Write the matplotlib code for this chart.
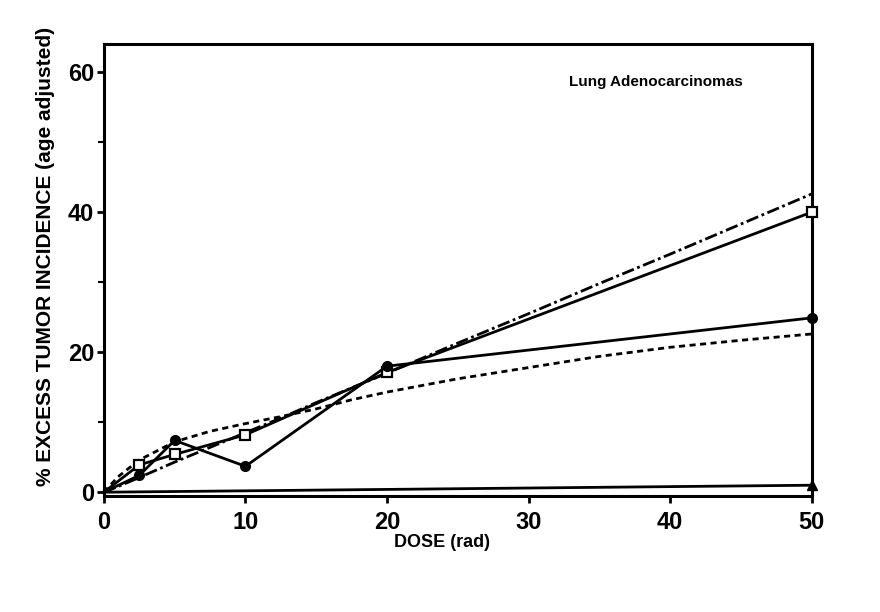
import matplotlib
matplotlib.use("Agg")
import matplotlib.pyplot as plt
import matplotlib.ticker as ticker

plt.rcParams['font.family'] = ['Liberation Sans', 'DejaVu Sans']

# observed points
dose = [0, 2.5, 5, 10, 20, 50]
squares = [0, 3.9, 5.4, 8.2, 17.1, 40.0]
circles = [0, 2.4, 7.4, 3.7, 18.0, 24.9]
tri_dose = [0, 50]
triangles = [0, 1.0]

# fitted curves
fit_dose = [0, 1, 2.5, 5, 7.5, 10, 12.5, 15, 17.5, 20, 25, 30, 35, 40, 45, 50]
dashdot_fit = [0, 0.8, 2.1, 4.3, 6.4, 8.5, 10.6, 12.8, 14.9, 17.0, 21.3, 25.5,
               29.8, 34.0, 38.3, 42.6]
dotted_fit = [0, 2.2, 4.6, 7.2, 8.7, 9.8, 10.8, 11.9, 13.2, 14.3, 16.2, 17.8,
              19.4, 20.7, 21.7, 22.6]

title = "Lung Adenocarcinomas"

fig = plt.figure(figsize=(8.8, 6.12), dpi=100)
ax = fig.add_axes([0.118, 0.190, 0.8045, 0.738])

ax.plot(fit_dose, dashdot_fit, color='black', lw=2, dashes=(4.5, 1.3, 1, 1.3))
ax.plot(fit_dose, dotted_fit, color='black', lw=2, dashes=(2.2, 1.6))
ax.plot(dose, squares, color='black', lw=2, marker='s', markersize=6.5,
        markerfacecolor='white', markeredgewidth=1.6, markevery=list(range(1, 6)),
        clip_on=False, zorder=4)
ax.plot(dose, circles, color='black', lw=2, marker='o', markersize=7,
        markevery=list(range(1, 6)), clip_on=False, zorder=4)
ax.plot(tri_dose, triangles, color='black', lw=2, marker='^', markersize=7,
        markevery=[1], clip_on=False, zorder=4)

ax.set_xlim(0, 50)
ax.set_ylim(-0.5, 64)
ax.set_xticks([0, 10, 20, 30, 40, 50])
ax.set_yticks([0, 20, 40, 60])
ax.yaxis.set_minor_locator(ticker.FixedLocator([10, 30, 50]))

for s in ax.spines.values():
    s.set_linewidth(2.2)

ax.tick_params(axis='both', which='major', direction='out', length=5, width=2,
               labelsize=17, colors='black')
ax.tick_params(axis='x', which='major', pad=6)
ax.tick_params(axis='y', which='major', pad=2)
ax.tick_params(axis='y', which='minor', direction='out', length=4, width=1.5)
for lab in ax.get_xticklabels() + ax.get_yticklabels():
    lab.set_fontweight('bold')

ax.text(45.1, 58.6, title, ha='right', va='center', fontsize=11,
        fontweight='bold')

ax.set_xlabel("DOSE (rad)", fontsize=13, fontweight='bold')
ax.xaxis.set_label_coords(0.477, -0.085)
ax.set_ylabel("% EXCESS TUMOR INCIDENCE (age adjusted)", fontsize=15,
              fontweight='bold')
ax.yaxis.set_label_coords(-0.069, 0.53)

fig.savefig("out.png", dpi=100)
